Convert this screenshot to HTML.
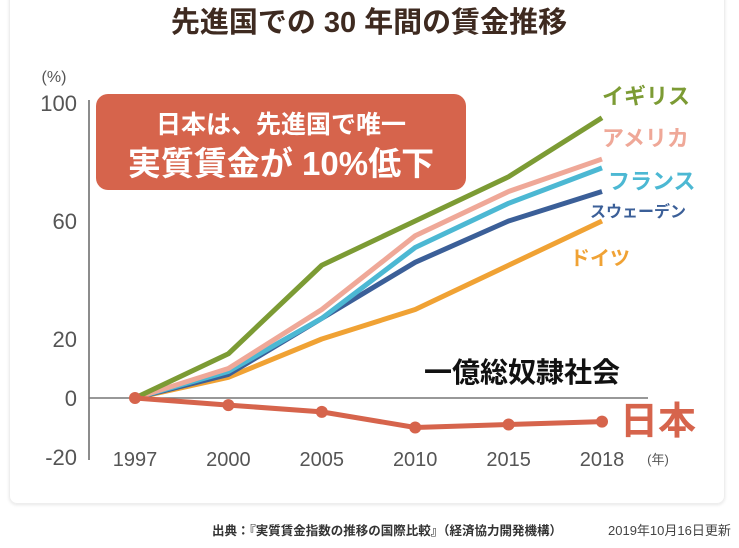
<!DOCTYPE html>
<html><head><meta charset="utf-8"><style>
body{margin:0;width:739px;height:548px;background:#fff;overflow:hidden;font-family:"Liberation Sans","Noto Sans CJK JP",sans-serif}
</style></head><body>
<div style="position:absolute;left:9px;top:-10px;width:714px;height:512px;border:1px solid #eee;border-radius:8px;box-shadow:0 1px 3px #e6e6e6"></div>
<svg width="739" height="548" style="position:absolute;left:0;top:0" id="c" font-family="Liberation Sans, Noto Sans CJK JP, sans-serif">
<text x="369" y="32" text-anchor="middle" font-size="29" font-weight="bold" fill="#3e2a20">先進国での 30 年間の賃金推移</text>
<text x="54" y="82" text-anchor="middle" font-size="16" fill="#555">(%)</text>
<line x1="89" y1="100" x2="89" y2="460" stroke="#666" stroke-width="1.5"/>
<g id="yt"></g><g id="xt"></g>
<line x1="89" y1="398" x2="648" y2="398" stroke="#777" stroke-width="1.5"/>
<g id="series"></g>
<rect x="96" y="94" width="370" height="96" rx="12" fill="#d6644c"/>
<text x="281" y="133" text-anchor="middle" font-size="25" font-weight="bold" fill="#fff">日本は、先進国で唯一</text>
<text x="281" y="175" text-anchor="middle" font-size="33" font-weight="bold" fill="#fff">実質賃金が 10%低下</text>
<text x="522" y="382" text-anchor="middle" font-size="28" font-weight="bold" fill="#111">一億総奴隷社会</text>
<text x="658" y="464" text-anchor="middle" font-size="13" fill="#555">(年)</text>
<text x="212" y="535" font-size="12.5" font-weight="bold" fill="#333">出典：『実質賃金指数の推移の国際比較』（経済協力開発機構）</text>
<text x="608" y="535" font-size="13" fill="#444">2019年10月16日更新</text>
</svg>
<script>
const years=["1997","2000","2005","2010","2015","2018"];
const yTicks=[100,60,20,0,-20];
const uk=[0,15,45,60,75,95];
const usa=[0,10,30,55,70,81];
const france=[0,9,27,51,66,78];
const sweden=[0,8,27,46,60,70];
const germany=[0,7,20,30,45,60];
const japan=[0,-2.4,-4.7,-10,-9,-8];
const names=["イギリス","アメリカ","フランス","スウェーデン","ドイツ","日本"];
const NS="http://www.w3.org/2000/svg";
const xs=i=>135+i*93.4;
const ys=v=>398-v*2.95;
function mk(t,a,p){const e=document.createElementNS(NS,t);for(const k in a)e.setAttribute(k,a[k]);p.appendChild(e);return e;}
const yt=document.getElementById('yt');
yTicks.forEach(v=>{const t=mk('text',{x:77,y:ys(v)+8,'text-anchor':'end','font-size':22,fill:'#555'},yt);t.textContent=v;

});
const xt=document.getElementById('xt');
years.forEach((y,i)=>{const t=mk('text',{x:xs(i),y:466,'text-anchor':'middle','font-size':20,fill:'#555'},xt);t.textContent=y;

});
const sg=document.getElementById('series');
const series=[[germany,'#f0a234',names[4],'series-germany',[570,265,20]],[sweden,'#3b5f98',names[3],'series-sweden',[590,217,16]],[france,'#4cb8d3',names[2],'series-france',[608,189,22]],[usa,'#efa898',names[1],'series-usa',[602,146,22]],[uk,'#7c9b34',names[0],'series-uk',[602,104,22]]];
series.forEach(s=>{const d=s[0].map((v,i)=>(i?'L':'M')+xs(i)+','+ys(v)).join('');
const p=mk('path',{d:d,fill:'none',stroke:s[1],'stroke-width':5,'stroke-linejoin':'round'},sg);


const t=mk('text',{x:s[4][0],y:s[4][1],'font-size':s[4][2],'font-weight':'bold',fill:s[1]},sg);t.textContent=s[2];

});
const jd=japan.map((v,i)=>(i?'L':'M')+xs(i)+','+ys(v)).join('');
const jp=mk('path',{d:jd,fill:'none',stroke:'#d6644c','stroke-width':5,'stroke-linejoin':'round'},sg);


japan.forEach((v,i)=>{const c=mk('circle',{cx:xs(i),cy:ys(v),r:6,fill:'#d6644c'},sg);

});
const jl=mk('text',{x:620,y:434,'font-size':38,'font-weight':'bold',fill:'#d6644c'},sg);jl.textContent=names[5];


</script>
</body></html>
